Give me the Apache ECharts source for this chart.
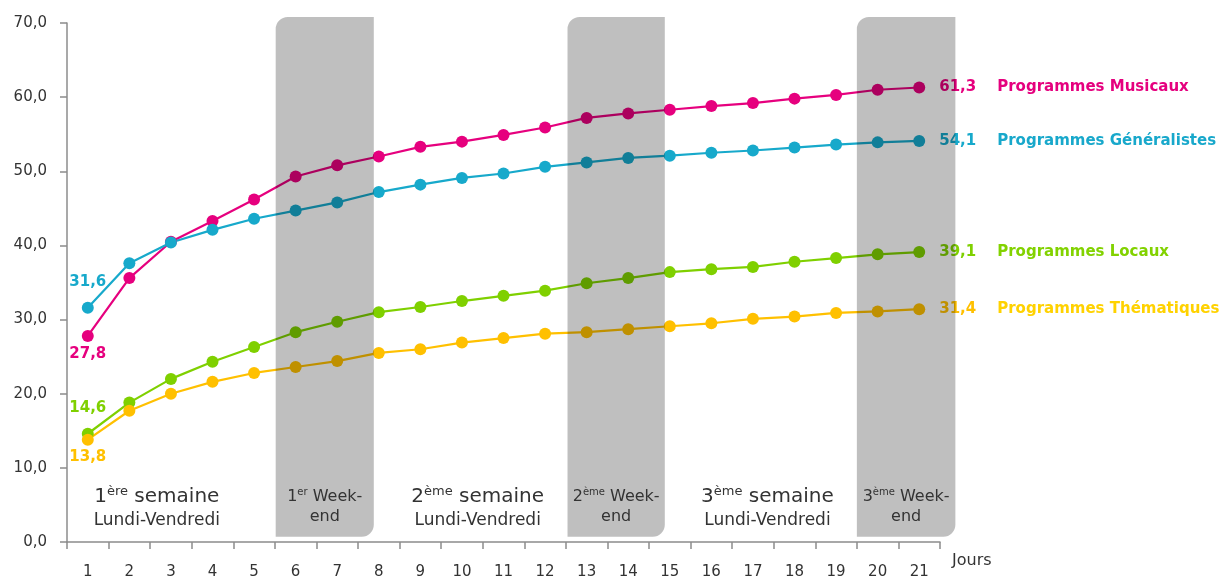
<!DOCTYPE html>
<html><head><meta charset="utf-8">
<script src="https://cdn.jsdelivr.net/npm/echarts@6/dist/echarts.min.js"></script>
<style>html,body{margin:0;padding:0;background:#fff}#c{width:1229px;height:578px}</style>
</head><body><div id="c"></div>
<script>
const days = ['1','2','3','4','5','6','7','8','9','10','11','12','13','14','15','16','17','18','19','20','21'];
const musicaux     = [27.8,35.6,40.5,43.3,46.2,49.3,50.8,52.0,53.3,54.0,54.9,55.9,57.2,57.8,58.3,58.8,59.2,59.8,60.3,61.0,61.3];
const generalistes = [31.6,37.6,40.4,42.1,43.6,44.7,45.8,47.2,48.2,49.1,49.7,50.6,51.2,51.8,52.1,52.5,52.8,53.2,53.6,53.9,54.1];
const locaux       = [14.6,18.8,22.0,24.3,26.3,28.3,29.7,31.0,31.7,32.5,33.2,33.9,34.9,35.6,36.4,36.8,37.1,37.8,38.3,38.8,39.1];
const thematiques  = [13.8,17.7,20.0,21.6,22.8,23.6,24.4,25.5,26.0,26.9,27.5,28.1,28.3,28.7,29.1,29.5,30.1,30.4,30.9,31.1,31.4];
const seriesNames  = ['Programmes Musicaux','Programmes Généralistes','Programmes Locaux','Programmes Thématiques'];
const yTicks = [0,10,20,30,40,50,60,70];

// weekend bands (in day units) and labels
const weekendStart = [5.52, 12.54, 19.5];
const weekendEnd   = [7.88, 14.88, 21.87];
const weekendNum   = ['1','2','3'];
const weekendSup   = ['er','ème','ème'];
// working-week labels
const weekCenter = [2.66, 10.38, 17.35];
const weekNum    = ['1','2','3'];
const weekSup    = ['ère','ème','ème'];

const FONT = "'DejaVu Sans', 'Open Sans', sans-serif";
const fmt = v => v.toFixed(1).replace('.', ',');

function dayToX(api, d) {
  const r = Math.round(d);
  const c = api.coord([r - 1, 0])[0];
  const band = api.size([1, 0])[0];
  return c + (d - r) * band;
}

function mkLine(idx, data, color, nameColor, firstPos, firstDist) {
  return {
    type: 'line', name: seriesNames[idx], z: 2,
    symbol: 'circle', symbolSize: 12, showAllSymbol: true,
    lineStyle: { color: color, width: 2.2 },
    itemStyle: { color: color },
    emphasis: { disabled: true },
    data: data.map((v, i) => {
      if (i === 0) {
        return { value: v, label: { show: true, position: firstPos, distance: firstDist,
          formatter: fmt(v), color: color, fontFamily: FONT, fontWeight: 'bold', fontSize: 15 } };
      }
      if (i === data.length - 1) {
        return { value: v, label: { show: true, position: 'right', distance: 14,
          formatter: '{v|' + fmt(v) + '}{n|' + seriesNames[idx] + '}',
          rich: {
            v: { color: color, fontFamily: FONT, fontWeight: 'bold', fontSize: 15, width: 58 },
            n: { color: nameColor, fontFamily: FONT, fontWeight: 'bold', fontSize: 15 }
          } } };
      }
      return v;
    })
  };
}

const chart = echarts.init(document.getElementById('c'), null, { renderer: 'canvas' });
chart.setOption({
  animation: false,
  backgroundColor: '#fff',
  grid: { left: 67, right: 289, top: 23, bottom: 36, containLabel: false, outerBoundsMode: 'none' },
  xAxis: {
    type: 'category', data: days, boundaryGap: true,
    name: 'Jours', nameLocation: 'end', nameGap: 12,
    nameTextStyle: { color: '#333', fontFamily: FONT, fontSize: 16, verticalAlign: 'top', padding: [11, 0, 0, 0] },
    axisLine: { lineStyle: { color: '#8c8c8c', width: 1.5 } },
    axisTick: { show: true, interval: 0, length: 7, lineStyle: { color: '#8c8c8c', width: 1.5 } },
    axisLabel: { interval: 0, margin: 23, color: '#333', fontFamily: FONT, fontSize: 15 },
    splitLine: { show: false }
  },
  yAxis: {
    type: 'value', min: yTicks[0], max: yTicks[yTicks.length - 1], interval: 10,
    axisLine: { show: true, lineStyle: { color: '#8c8c8c', width: 1.5 } },
    axisTick: { show: true, length: 7, lineStyle: { color: '#8c8c8c', width: 1.5 } },
    axisLabel: { margin: 20, color: '#333', fontFamily: FONT, fontSize: 15, formatter: v => fmt(v) },
    splitLine: { show: false }
  },
  series: [
    mkLine(0, musicaux, '#e6007e', '#e5007e', 'bottom', 5),
    mkLine(1, generalistes, '#17a9cb', '#18a8cb', 'top', 12),
    mkLine(2, locaux, '#7fd000', '#82d200', 'top', 12),
    mkLine(3, thematiques, '#ffc000', '#ffd200', 'bottom', 4),
    {
      type: 'custom', z: 3, silent: true,
      data: weekendStart.map((s, i) => [i, 0]),
      renderItem: function (params, api) {
        const i = params.dataIndex;
        const x0 = dayToX(api, weekendStart[i]);
        const x1 = dayToX(api, weekendEnd[i]);
        const yTop = api.coord([0, 70.8])[1];
        const yBot = api.coord([0, 0.7])[1];
        const cx = (x0 + x1) / 2;
        return {
          type: 'group',
          children: [
            { type: 'rect', shape: { x: x0, y: yTop, width: x1 - x0, height: yBot - yTop, r: [12, 0, 12, 0] },
              style: { fill: 'rgba(0,0,0,0.25)' } },
            { type: 'text', style: { x: cx, y: api.coord([0, 6.07])[1],
                text: '{a|' + weekendNum[i] + '}{b|' + weekendSup[i] + '}{a| Week-}',
                align: 'center', verticalAlign: 'middle',
                rich: {
                  a: { fontFamily: FONT, fontSize: 16, fill: '#333', lineHeight: 20 },
                  b: { fontFamily: FONT, fontSize: 10, fill: '#333', lineHeight: 20, verticalAlign: 'top', padding: [0, 0, 8, 0] }
                } } },
            { type: 'text', style: { x: cx, y: api.coord([0, 3.37])[1], text: 'end',
                align: 'center', verticalAlign: 'middle', fontFamily: FONT, fontSize: 16, fill: '#333' } }
          ]
        };
      }
    },
    {
      type: 'custom', z: 4, silent: true,
      data: weekCenter.map((c, i) => [i, 0]),
      renderItem: function (params, api) {
        const i = params.dataIndex;
        const cx = dayToX(api, weekCenter[i]);
        return {
          type: 'group',
          children: [
            { type: 'text', style: { x: cx, y: api.coord([0, 6.07])[1],
                text: '{a|' + weekNum[i] + '}{b|' + weekSup[i] + '}{a| semaine}',
                align: 'center', verticalAlign: 'middle',
                rich: {
                  a: { fontFamily: FONT, fontSize: 20, fill: '#333', lineHeight: 24 },
                  b: { fontFamily: FONT, fontSize: 13, fill: '#333', lineHeight: 24, verticalAlign: 'top', padding: [0, 0, 8, 0] }
                } } },
            { type: 'text', style: { x: cx, y: api.coord([0, 2.83])[1], text: 'Lundi-Vendredi',
                align: 'center', verticalAlign: 'middle', fontFamily: FONT, fontSize: 17, fill: '#333' } }
          ]
        };
      }
    }
  ]
});
</script>
</body></html>
